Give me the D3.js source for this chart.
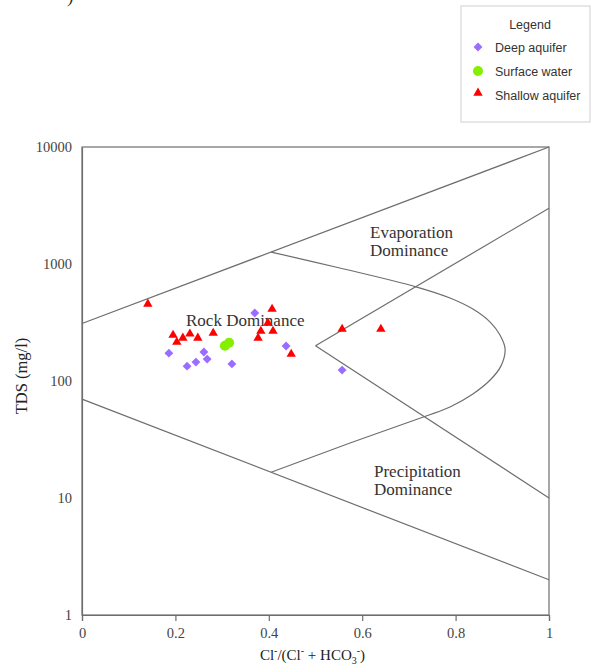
<!DOCTYPE html>
<html>
<head>
<meta charset="utf-8">
<script src="https://cdn.jsdelivr.net/npm/d3@7"></script>
<style>
  body { margin: 0; background: #fff; }
</style>
</head>
<body>
<div id="chart"></div>
<script>
(function gibbs() {

    const WIDTH = 592;
    const HEIGHT = 668;

    // samples: [Cl/(Cl+HCO3), TDS mg/l]
    const deepAquifer = [
        [0.186, 173], [0.225, 134], [0.244, 145], [0.261, 177], [0.268, 154],
        [0.321, 140], [0.370, 381], [0.437, 199], [0.557, 124]
    ];
    const surfaceWater = [
        [0.306, 200], [0.315, 212]
    ];
    const shallowAquifer = [
        [0.141, 455], [0.195, 247], [0.203, 215], [0.216, 233], [0.231, 253],
        [0.248, 233], [0.281, 257], [0.407, 412], [0.398, 313], [0.383, 267],
        [0.409, 267], [0.377, 233], [0.448, 170], [0.557, 278], [0.640, 278]
    ];

    // Gibbs boundaries
    const upperLine = [[0, 310], [1, 10000]];
    const lowerLine = [[0, 70], [1, 2]];
    const innerUpper = [[0.5, 200], [1, 3000]];
    const innerLower = [[0.5, 200], [1, 10]];
    const rockCurve = [
        [0.405, 1265], [0.552, 925], [0.717, 635], [0.788, 512], [0.837, 412],
        [0.874, 319], [0.895, 247], [0.906, 188], [0.897, 134], [0.874, 102],
        [0.837, 77.5], [0.788, 60], [0.737, 50.2], [0.574, 29.5], [0.405, 16.6]
    ];

    const xTicks = [0, 0.2, 0.4, 0.6, 0.8, 1];
    const yTicks = [1, 10, 100, 1000, 10000];

    const legendItems = ["Deep aquifer", "Surface water", "Shallow aquifer"];

    const LINE = "#6e6e6e";
    const PURPLE = "#9a6cff";
    const GREEN = "#84f000";
    const RED = "#ff0000";

    const svg = d3.select("#chart").append("svg")
        .attr("width", WIDTH)
        .attr("height", HEIGHT)
        .style("background", "#fff");

    const x = d3.scaleLinear().domain([0, 1]).range([82, 549]);
    const y = d3.scaleLog().domain([1, 10000]).range([615, 147]);

    // leftover bit of text cut off at the top
    svg.append("text")
        .attr("x", 68)
        .attr("y", 3)
        .attr("font-family", "Liberation Serif")
        .attr("font-size", 16)
        .attr("font-style", "italic")
        .attr("fill", "#222")
        .text(")");

    // frame
    svg.append("rect")
        .attr("x", x(0))
        .attr("y", y(10000))
        .attr("width", x(1) - x(0))
        .attr("height", y(1) - y(10000))
        .attr("fill", "none")
        .attr("stroke", LINE)
        .attr("stroke-width", 1.2);

    // axes
    const xAxis = svg.append("g")
        .attr("transform", `translate(0,${y(1)})`)
        .call(d3.axisBottom(x).tickValues(xTicks).tickFormat(d3.format("~g")).tickSize(6).tickPadding(7));
    const yAxis = svg.append("g")
        .attr("transform", `translate(${x(0)},0)`)
        .call(d3.axisLeft(y).tickValues(yTicks).tickFormat(d3.format("d")).tickSize(0).tickPadding(10));

    [xAxis, yAxis].forEach(g => {
        g.select(".domain").attr("stroke", LINE).attr("stroke-width", 1.2);
        g.selectAll(".tick line").attr("stroke", LINE).attr("stroke-width", 1.2);
        g.selectAll(".tick text")
            .attr("font-family", "Liberation Serif")
            .attr("font-size", 14.5)
            .attr("fill", "#444");
    });

    // boundary lines
    const line = d3.line().x(d => x(d[0])).y(d => y(d[1]));
    const curved = d3.line().x(d => x(d[0])).y(d => y(d[1])).curve(d3.curveCatmullRom.alpha(0.5));

    [upperLine, lowerLine, innerUpper, innerLower].forEach(seg => {
        svg.append("path")
            .attr("d", line(seg))
            .attr("fill", "none")
            .attr("stroke", LINE)
            .attr("stroke-width", 1.2);
    });
    svg.append("path")
        .attr("d", curved(rockCurve))
        .attr("fill", "none")
        .attr("stroke", LINE)
        .attr("stroke-width", 1.2);

    // region labels
    const labelFont = g => g
        .attr("font-family", "Liberation Serif")
        .attr("font-size", 17)
        .attr("fill", "#333");

    svg.append("text").attr("x", 370).attr("y", 238).call(labelFont).text("Evaporation");
    svg.append("text").attr("x", 370).attr("y", 256).call(labelFont).text("Dominance");
    svg.append("text").attr("x", 186).attr("y", 326).call(labelFont).text("Rock Dominance");
    svg.append("text").attr("x", 374).attr("y", 477).call(labelFont).text("Precipitation");
    svg.append("text").attr("x", 374).attr("y", 495).call(labelFont).text("Dominance");

    // axis titles
    const xt = svg.append("text")
        .attr("x", (x(0) + x(1)) / 2 - 3)
        .attr("y", 660)
        .attr("text-anchor", "middle")
        .attr("font-family", "Liberation Serif")
        .attr("font-size", 15)
        .attr("fill", "#222");
    xt.append("tspan").text("Cl");
    xt.append("tspan").attr("dy", -6).attr("font-size", 10).text("-");
    xt.append("tspan").attr("dy", 6).text("/(Cl");
    xt.append("tspan").attr("dy", -6).attr("font-size", 10).text("-");
    xt.append("tspan").attr("dy", 6).text(" + HCO");
    xt.append("tspan").attr("dy", 4).attr("font-size", 10).text("3");
    xt.append("tspan").attr("dy", -10).attr("font-size", 10).text("-");
    xt.append("tspan").attr("dy", 6).text(")");

    svg.append("text")
        .attr("transform", `translate(27,${(y(1) + y(10000)) / 2 - 5}) rotate(-90)`)
        .attr("text-anchor", "middle")
        .attr("font-family", "Liberation Serif")
        .attr("font-size", 16.5)
        .attr("fill", "#222")
        .text("TDS (mg/l)");

    // markers
    const diamond = d3.symbol().type(d3.symbolDiamond2).size(50);
    const triangle = d3.symbol().type(d3.symbolTriangle).size(38);

    svg.append("g").selectAll("path")
        .data(deepAquifer)
        .join("path")
        .attr("transform", d => `translate(${x(d[0])},${y(d[1])})`)
        .attr("d", diamond)
        .attr("fill", PURPLE);

    svg.append("g").selectAll("circle")
        .data(surfaceWater)
        .join("circle")
        .attr("cx", d => x(d[0]))
        .attr("cy", d => y(d[1]))
        .attr("r", 5)
        .attr("fill", GREEN);

    svg.append("g").selectAll("path")
        .data(shallowAquifer)
        .join("path")
        .attr("transform", d => `translate(${x(d[0])},${y(d[1])})`)
        .attr("d", triangle)
        .attr("fill", RED);

    // legend
    const legend = svg.append("g").attr("transform", "translate(461,6)");
    legend.append("rect")
        .attr("width", 129)
        .attr("height", 116)
        .attr("fill", "#fff")
        .attr("stroke", "#cfcfcf");
    legend.append("text")
        .attr("x", 69)
        .attr("y", 23)
        .attr("text-anchor", "middle")
        .attr("font-family", "Liberation Sans")
        .attr("font-size", 12.5)
        .attr("fill", "#333")
        .text("Legend");

    const rows = legend.selectAll("g.row")
        .data(legendItems)
        .join("g")
        .attr("class", "row")
        .attr("transform", (d, i) => `translate(0,${42 + i * 24})`);
    rows.append("text")
        .attr("x", 34)
        .attr("y", 4)
        .attr("font-family", "Liberation Sans")
        .attr("font-size", 12.5)
        .attr("fill", "#333")
        .text(d => d);
    rows.filter((d, i) => i === 0).append("path")
        .attr("transform", "translate(17,-1)")
        .attr("d", diamond)
        .attr("fill", PURPLE);
    rows.filter((d, i) => i === 1).append("circle")
        .attr("cx", 17)
        .attr("cy", -1)
        .attr("r", 5)
        .attr("fill", GREEN);
    rows.filter((d, i) => i === 2).append("path")
        .attr("transform", "translate(17,-3)")
        .attr("d", triangle)
        .attr("fill", RED);

})();
</script>
</body>
</html>
